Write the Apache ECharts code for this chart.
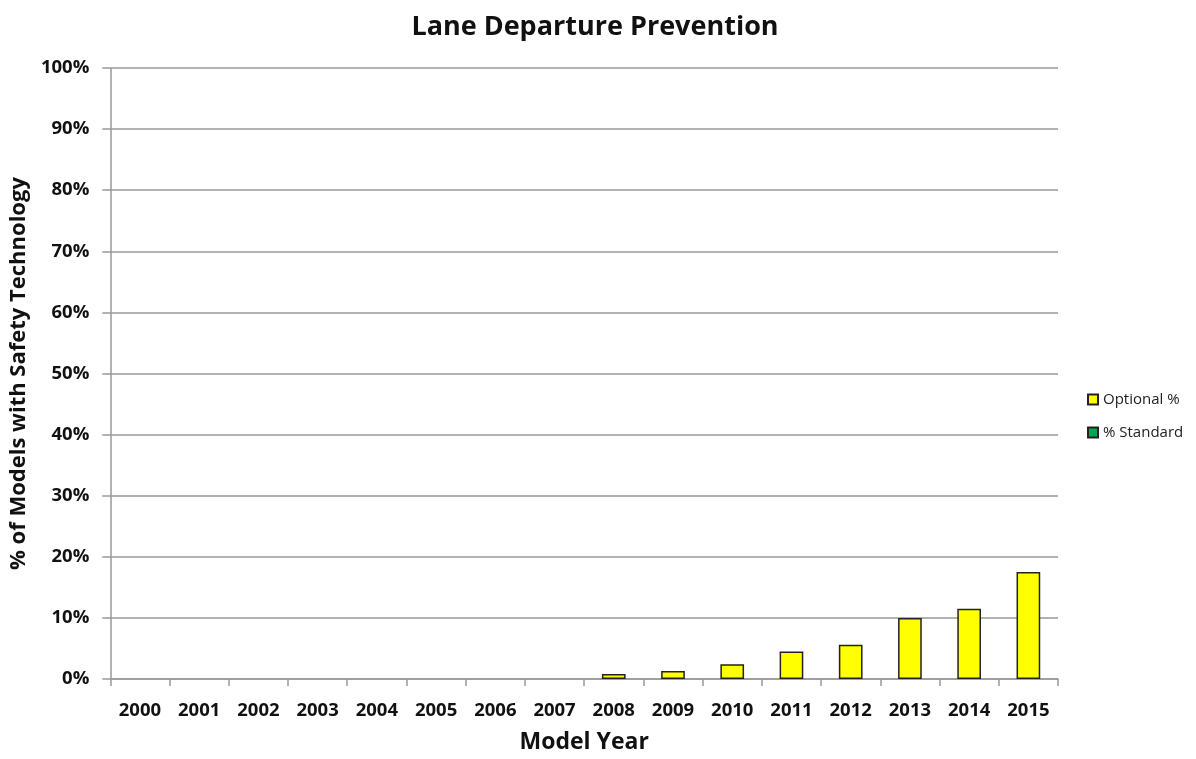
<!DOCTYPE html>
<html>
<head>
<meta charset="utf-8">
<title>Lane Departure Prevention</title>
<script src="https://cdn.jsdelivr.net/npm/echarts@6/dist/echarts.min.js"></script>
<style>
  html, body { margin: 0; padding: 0; background: #ffffff; }
  #chart { width: 1196px; height: 759px; }
</style>
</head>
<body>
<div id="chart"></div>
<script>
// Model years on the category axis
const years = ['2000', '2001', '2002', '2003', '2004', '2005', '2006', '2007',
               '2008', '2009', '2010', '2011', '2012', '2013', '2014', '2015'];
// Share of models offering lane departure prevention as an option (%)
const optionalPct = [0, 0, 0, 0, 0, 0, 0, 0, 0.8, 1.3, 2.4, 4.5, 5.6, 10.0, 11.5, 17.5];
// Share of models with it as standard equipment (%)
const standardPct = [0, 0, 0, 0, 0, 0, 0, 0, 0, 0, 0, 0, 0, 0, 0, 0];

const FONT = '"Open Sans", Lato, sans-serif';
// zero-height bars are left undrawn
const asBars = arr => arr.map(v => (v === 0 ? '-' : v));

const chart = echarts.init(document.getElementById('chart'), null, { renderer: 'canvas' });
chart.setOption({
  animation: false,
  backgroundColor: '#ffffff',
  title: {
    text: 'Lane Departure Prevention',
    left: 590,
    textAlign: 'center',
    top: 9,
    textStyle: { fontFamily: FONT, fontWeight: 'bold', fontSize: 27, color: '#111111' }
  },
  legend: {
    orient: 'vertical',
    left: 1082,
    top: 387,
    itemWidth: 10,
    itemHeight: 10,
    itemGap: 18,
    icon: 'rect',
    textStyle: { fontFamily: FONT, fontSize: 15, color: '#222222' },
    data: ['Optional %', '% Standard']
  },
  grid: { left: 110, right: 138, top: 68, bottom: 77 },
  xAxis: {
    type: 'category',
    data: years,
    name: 'Model Year',
    nameLocation: 'middle',
    nameGap: 52,
    nameTextStyle: { fontFamily: FONT, fontWeight: 'bold', fontSize: 23, color: '#111111' },
    axisLine: { lineStyle: { color: '#999999', width: 1.5 } },
    axisTick: { show: true, length: 7, lineStyle: { color: '#999999', width: 1.5 } },
    axisLabel: { fontFamily: FONT, fontWeight: 'bold', fontSize: 18.5, color: '#111111', margin: 22 }
  },
  yAxis: {
    type: 'value',
    min: 0,
    max: 100,
    interval: 10,
    name: '% of Models with Safety Technology',
    nameLocation: 'middle',
    nameGap: 80,
    nameTextStyle: { fontFamily: FONT, fontWeight: 'bold', fontSize: 22, color: '#111111' },
    axisLine: { show: true, lineStyle: { color: '#999999', width: 1.5 } },
    axisTick: { show: true, length: 8, lineStyle: { color: '#999999', width: 1.5 } },
    axisLabel: {
      fontFamily: FONT, fontWeight: 'bold', fontSize: 18.5, color: '#111111', margin: 21,
      formatter: '{value}%'
    },
    splitLine: { lineStyle: { color: '#999999', width: 1.5 } }
  },
  series: [
    {
      name: 'Optional %',
      type: 'bar',
      stack: 'share',
      data: asBars(optionalPct),
      barWidth: '40%',
      itemStyle: { color: '#ffff00', borderColor: '#222222', borderWidth: 1.5 }
    },
    {
      name: '% Standard',
      type: 'bar',
      stack: 'share',
      data: asBars(standardPct),
      barWidth: '40%',
      itemStyle: { color: '#00a651', borderColor: '#222222', borderWidth: 1.5 }
    }
  ]
});
</script>
</body>
</html>
